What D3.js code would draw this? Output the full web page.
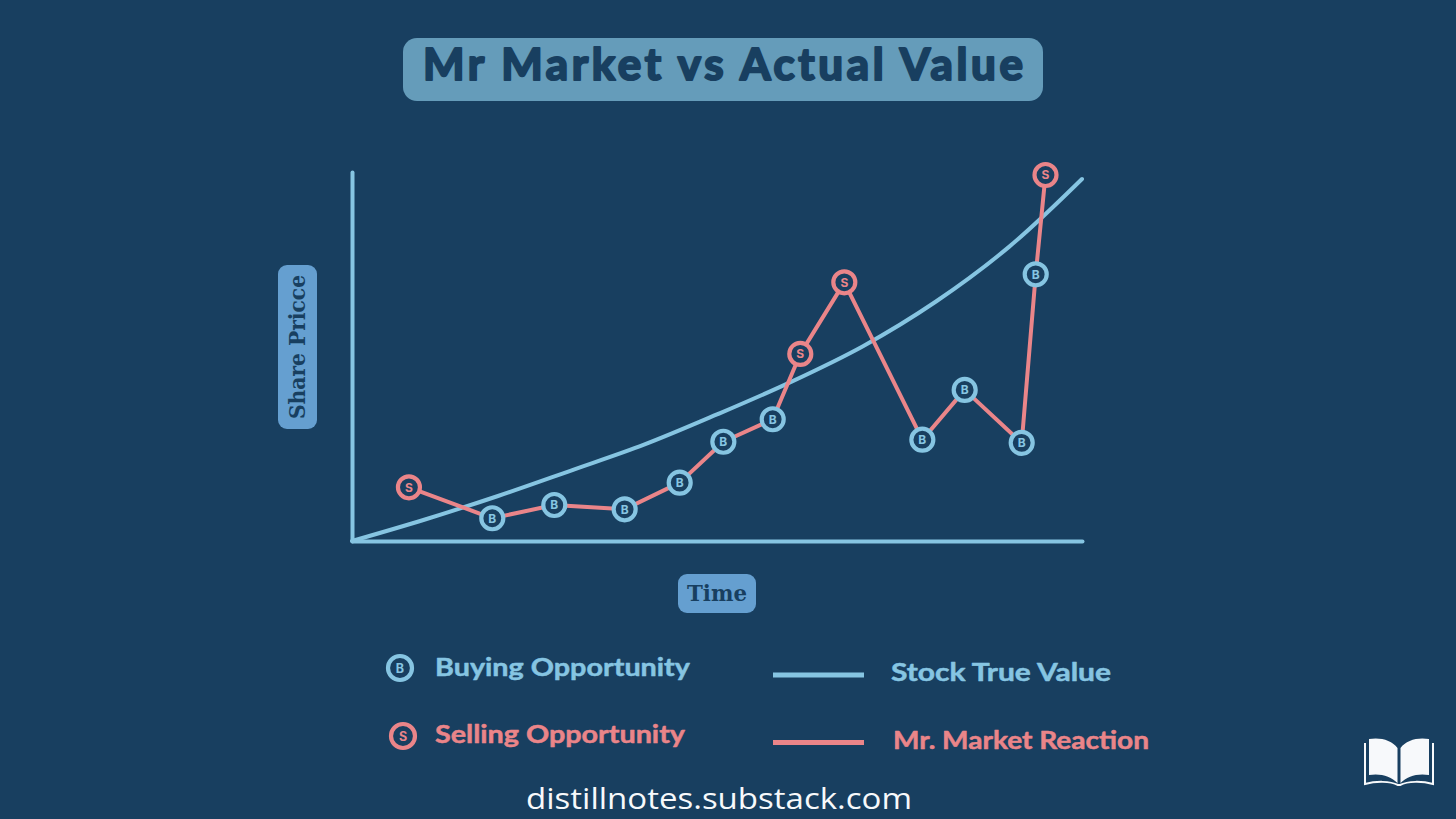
<!DOCTYPE html>
<html><head><meta charset="utf-8">
<style>html,body{margin:0;padding:0;background:#183f60;overflow:hidden}</style>
<script src="https://cdn.jsdelivr.net/npm/d3@7"></script></head>
<body><svg id="c" width="1456" height="819"></svg>
<script>
const chartTitle = "Mr Market vs Actual Value";
const xLabel = "Time";
const yLabel = "Share Pricce";
const footer = "distillnotes.substack.com";
const trueX = [0,10,20,30,40,50,60,70,80,90,100];
const trueY = [0,5.83,12.2,19.1,26.1,34.3,43.0,52.8,64.9,79.7,98.1];
const marketX = [7.8,19.22,27.71,37.35,44.89,50.87,57.63,61.41,67.44,78.13,83.93,91.74,93.66,95.0];
const marketY = [14.55,6.16,9.76,8.59,15.81,26.9,33.0,50.7,70.1,27.45,40.95,26.6,72.27,99.19];
const marketKind = ["S","B","B","B","B","B","B","S","S","B","B","B","B","S"];
const legendMarkers = [["B","Buying Opportunity"],["S","Selling Opportunity"]];
const legendLines = [["Stock True Value"],["Mr. Market Reaction"]];

const BG="#183f60", BLUE="#86c5e2", RED="#ea8589", TITLEBOX="#659cba", LABELBOX="#659fd0", INK="#183f60";
const ROUND="Lato, 'Open Sans', sans-serif", SERIF="'DejaVu Serif', 'Liberation Serif', serif";
const svg=d3.select("#c");
svg.append("rect").attr("width",1456).attr("height",819).attr("fill",BG);

const x=d3.scaleLinear().domain([0,100]).range([352,1082]);
const y=d3.scaleLinear().domain([0,100]).range([541,172]);
const col=k=>k==="B"?BLUE:RED;

// title
svg.append("rect").attr("x",403).attr("y",38).attr("width",640).attr("height",63).attr("rx",14).attr("fill",TITLEBOX);
svg.append("text").attr("x",723).attr("y",80).attr("text-anchor","middle").attr("font-family",ROUND).attr("font-weight",700)
  .attr("font-size",44).attr("textLength",600).attr("lengthAdjust","spacing").attr("fill",INK).attr("stroke",INK).attr("stroke-width",2.2).attr("stroke-linejoin","round").text(chartTitle);

// axes, drawn by the library, without ticks
const ax=svg.append("g").attr("transform","translate(0,541)").call(d3.axisBottom(x).tickValues([]).tickSize(0));
const ay=svg.append("g").attr("transform","translate(352,0)").call(d3.axisLeft(y).tickValues([]).tickSize(0));
[ax,ay].forEach(g=>g.select(".domain").attr("stroke",BLUE).attr("stroke-width",4).attr("stroke-linecap","round"));

// lines
const trueLine=d3.line().x((d,i)=>x(trueX[i])).y(d=>y(d)).curve(d3.curveCatmullRom);
svg.append("path").attr("d",trueLine(trueY)).attr("fill","none").attr("stroke",BLUE).attr("stroke-width",4).attr("stroke-linecap","round");
const mLine=d3.line().x((d,i)=>x(marketX[i])).y(d=>y(d));
svg.append("path").attr("d",mLine(marketY)).attr("fill","none").attr("stroke",RED).attr("stroke-width",4).attr("stroke-linejoin","round");

function marker(g,cx,cy,k,r,sw,fs){
  g.append("circle").attr("cx",cx).attr("cy",cy).attr("r",r).attr("fill",BG).attr("stroke",col(k)).attr("stroke-width",sw);
  g.append("text").attr("x",cx).attr("y",cy+fs*0.36).attr("text-anchor","middle").attr("font-family","Inter, sans-serif").attr("font-weight",700).attr("font-size",fs).attr("fill",col(k)).text(k);
}
const mk=svg.append("g");
marketKind.forEach((k,i)=>marker(mk,x(marketX[i]),y(marketY[i]),k,11,4.2,12));

// axis labels
svg.append("rect").attr("x",278).attr("y",265).attr("width",39).attr("height",164).attr("rx",9).attr("fill",LABELBOX);
svg.append("text").attr("transform","translate(305,347) rotate(-90)").attr("text-anchor","middle").attr("font-family",SERIF).attr("font-weight",700).attr("font-size",22).attr("textLength",144).attr("lengthAdjust","spacingAndGlyphs").attr("fill",INK).text(yLabel);
svg.append("rect").attr("x",678).attr("y",574).attr("width",78).attr("height",39).attr("rx",9).attr("fill",LABELBOX);
svg.append("text").attr("x",717).attr("y",601).attr("text-anchor","middle").attr("font-family",SERIF).attr("font-weight",700).attr("font-size",22).attr("textLength",60).attr("lengthAdjust","spacingAndGlyphs").attr("fill",INK).text(xLabel);

// legend
const lg=svg.append("g");
function ltext(tx,ty,w,c,s){lg.append("text").attr("x",tx).attr("y",ty).attr("font-family",ROUND).attr("font-weight",700).attr("font-size",25).attr("textLength",w).attr("lengthAdjust","spacingAndGlyphs").attr("fill",c).attr("stroke",c).attr("stroke-width",0.5).attr("stroke-linejoin","round").text(s);}
marker(lg,400,668,legendMarkers[0][0],12,4.2,12.5);
marker(lg,403,736,legendMarkers[1][0],12,4.2,12.5);
ltext(435,676,255,BLUE,legendMarkers[0][1]);
ltext(435,743,250,RED,legendMarkers[1][1]);
lg.append("line").attr("x1",773).attr("x2",864).attr("y1",675).attr("y2",675).attr("stroke",BLUE).attr("stroke-width",5);
lg.append("line").attr("x1",773).attr("x2",864).attr("y1",742.5).attr("y2",742.5).attr("stroke",RED).attr("stroke-width",5);
ltext(891,681,220,BLUE,legendLines[0][0]);
ltext(893,749,256,RED,legendLines[1][0]);

// footer
svg.append("text").attr("x",719).attr("y",809).attr("text-anchor","middle").attr("font-family","'Open Sans', sans-serif").attr("font-size",30).attr("textLength",386).attr("lengthAdjust","spacingAndGlyphs").attr("fill","#f7f9fb").text(footer);

// book icon
const book=svg.append("g").attr("fill","#f7f9fb");
book.append("path").attr("d","M1369 739 C1380 737 1392 740 1397.5 748 L1397.5 783 C1391 776 1380 773 1369 775 Z");
book.append("path").attr("d","M1400.5 748 C1406 740 1418 737 1429 739 L1429 775 C1418 773 1407 776 1400.5 783 Z");
book.append("path").attr("fill","none").attr("stroke","#f7f9fb").attr("stroke-width",2).attr("d","M1365 743 L1365 784 C1376 781 1390 781 1398 785 L1400 785 C1408 781 1422 781 1433 784 L1433 743");
</script></body></html>
